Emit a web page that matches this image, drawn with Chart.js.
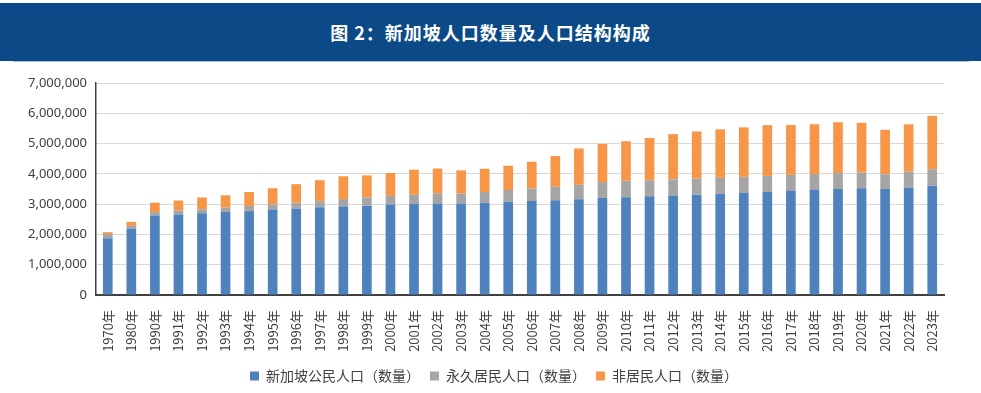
<!DOCTYPE html>
<html>
<head>
<meta charset="utf-8">
<script src="https://cdn.jsdelivr.net/npm/chart.js@4"></script>
<style>
  body { margin: 0; background: #fff; }
  #wrap { position: relative; width: 981px; height: 393px; }
  #title {
    position: absolute; left: 0; top: 3px; width: 981px; height: 58px;
    background: #0b4a86; color: #fff; text-align: center;
    font: bold 18px "Noto Sans CJK SC", sans-serif; line-height: 58px;
    letter-spacing: 1px; z-index: 2;
  }
  #rule { position: absolute; left: 13px; top: 61px; width: 956px; height: 1px; background: #a9c3da; z-index: 2; }
</style>
</head>
<body>
<div id="wrap">
  <div id="title">图 2：新加坡人口数量及人口结构构成</div>
  <div id="rule"></div>
  <canvas id="popChart"></canvas>
</div>
<script>
// 年份
const years = ['1970年', '1980年', '1990年', '1991年', '1992年', '1993年', '1994年', '1995年', '1996年', '1997年',
  '1998年', '1999年', '2000年', '2001年', '2002年', '2003年', '2004年', '2005年', '2006年', '2007年',
  '2008年', '2009年', '2010年', '2011年', '2012年', '2013年', '2014年', '2015年', '2016年', '2017年',
  '2018年', '2019年', '2020年', '2021年', '2022年', '2023年'];

// 新加坡公民人口
const citizens = [1874000, 2194000, 2624000, 2660000, 2700000, 2740000, 2770000, 2823000, 2860000, 2900000,
  2920000, 2950000, 2986000, 3010000, 3020000, 3020000, 3040000, 3081000, 3100000, 3130000,
  3160000, 3200000, 3231000, 3257000, 3285000, 3313000, 3343000, 3375000, 3409000, 3439000,
  3472000, 3500000, 3523000, 3498000, 3553000, 3610000];

// 永久居民人口
const residents = [138000, 88000, 112000, 130000, 130000, 150000, 170000, 167000, 190000, 200000,
  250000, 270000, 288000, 300000, 340000, 330000, 360000, 386000, 420000, 450000,
  480000, 530000, 541000, 532000, 533000, 531000, 528000, 527000, 524000, 527000,
  522000, 526000, 521000, 490000, 518000, 544000];

// 非居民人口
const nonResidents = [62000, 132000, 311000, 330000, 390000, 400000, 460000, 535000, 610000, 690000,
  750000, 730000, 754000, 828000, 816000, 765000, 767000, 799000, 880000, 1009000,
  1199000, 1258000, 1305000, 1395000, 1494000, 1555000, 1599000, 1633000, 1674000, 1646000,
  1645000, 1678000, 1642000, 1466000, 1566000, 1763000];

// geser legenda sedikit ke kanan supaya sama dengan gambar
const legendShift = {
    id: 'legendShift',
    afterLayout(chart) {
        if (chart.legend) {
            chart.legend.left += 22;
            chart.legend.right += 22;
        }
    }
};

const ctx = document.getElementById('popChart').getContext('2d');
const popChart = new Chart(ctx, {
    type: 'bar',
    data: {
        labels: years,
        datasets: [
            { label: '新加坡公民人口（数量）', data: citizens, backgroundColor: '#4f81bd' },
            { label: '永久居民人口（数量）', data: residents, backgroundColor: '#a5a5a5' },
            { label: '非居民人口（数量）', data: nonResidents, backgroundColor: '#f79646' }
        ]
    },
    options: {
        responsive: true,
        maintainAspectRatio: false,
        animation: false,
        layout: { padding: { top: 83, right: 37, left: 0, bottom: 0 } },
        datasets: { bar: { barPercentage: 0.41, categoryPercentage: 1 } },
        scales: {
            x: {
                stacked: true,
                grid: { display: false },
                border: { color: '#404040', width: 2 },
                ticks: {
                    minRotation: 90, maxRotation: 90, autoSkip: false, padding: 7,
                    color: '#404040', font: { family: 'Noto Sans CJK SC', size: 13 }
                },
                afterFit: (scale) => { scale.height = 64; }
            },
            y: {
                stacked: true,
                min: 0, max: 7000000,
                border: { color: '#404040', width: 1.5 },
                grid: { color: '#d9d9d9', drawTicks: false },
                ticks: {
                    stepSize: 1000000, padding: 9, color: '#404040',
                    font: { family: 'Noto Sans', size: 13 },
                    callback: (v) => v.toLocaleString('en-US')
                },
                afterFit: (scale) => { scale.width = 96; }
            }
        },
        plugins: {
            legend: {
                position: 'bottom',
                labels: {
                    boxWidth: 9, boxHeight: 9, padding: 10, color: '#404040',
                    font: { family: 'Noto Sans CJK SC', size: 14 }
                }
            },
            tooltip: { enabled: false }
        }
    },
    plugins: [legendShift]
});
</script>
</body>
</html>
